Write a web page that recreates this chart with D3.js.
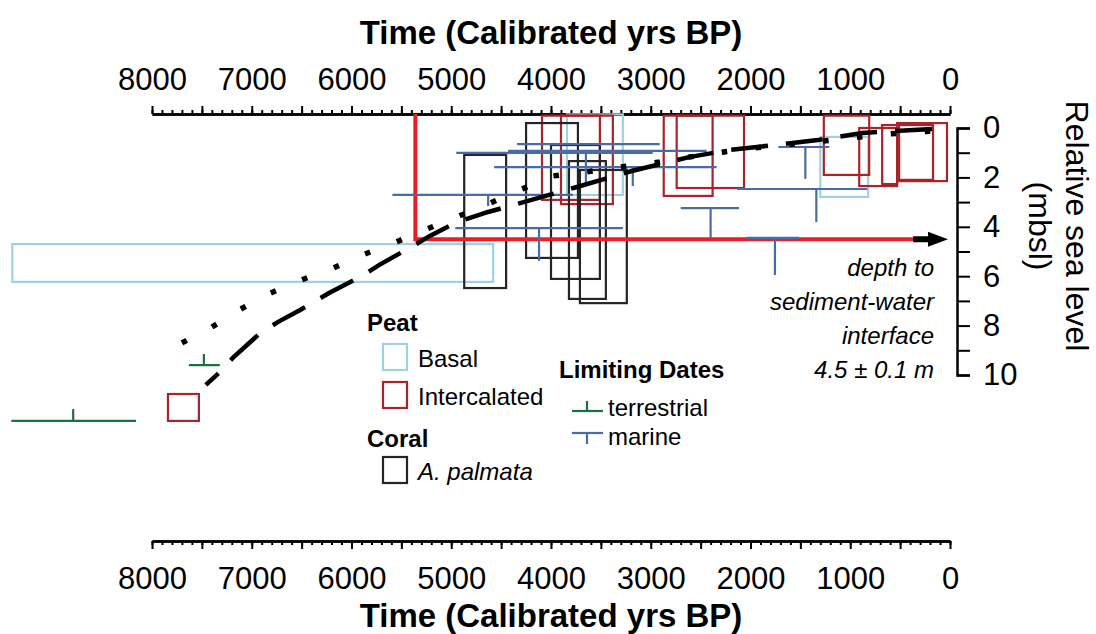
<!DOCTYPE html>
<html>
<head>
<meta charset="utf-8">
<script src="https://cdn.jsdelivr.net/npm/d3@7"></script>
<style>
  body { margin: 0; background: #fff; }
  svg { display: block; font-family: "Liberation Sans", Arial, sans-serif; }
</style>
</head>
<body>
<div id="container"></div>
<script>
/**
 * DATA (ages in calibrated yrs BP, depths in m below sea level)
 * */
// [older, younger, top, bottom]
const basalPeat = [
  [9400, 4580, 4.70, 6.23],
  [3840, 3280, -0.55, 2.71],
  [1300, 820, 0.36, 2.79]
];
const intercalatedPeat = [
  [4090, 3510, -0.5, 2.91],
  [3900, 3380, -0.5, 3.08],
  [2870, 2380, -0.5, 2.75],
  [2740, 2065, -0.5, 2.43],
  [1265, 810, -0.5, 1.90],
  [910, 530, 0.0, 2.35],
  [680, 530, -0.12, 2.27],
  [530, 30, -0.2, 2.15],
  [510, 170, -0.12, 2.10],
  [7840, 7530, 10.77, 11.86]
];
const coralPalmata = [
  [4870, 4450, 1.09, 6.48],
  [4250, 3730, -0.2, 5.26],
  [4000, 3510, 0.69, 6.11],
  [3820, 3450, 1.34, 6.92],
  [3710, 3240, 1.70, 7.09]
];
// [older, younger, median, depth, tick end depth]
const marineDates = [
  [4340, 2910, null, 0.65, null],
  [4950, 2980, null, 1.01, null],
  [4430, 2440, 3650, 0.93, 2.23],
  [4570, 2340, 3180, 1.58, 2.35],
  [5590, 3780, 4630, 2.71, 3.16],
  [4960, 3280, 4120, 4.05, 5.38],
  [1720, 1210, 1450, 0.77, 2.06],
  [2135, 830, 1340, 2.47, 3.81],
  [2700, 2115, 2400, 3.24, 4.45],
  [2035, 1515, 1755, 4.45, 5.95]
];
const terrestrialDates = [
  [7630, 7320, 7480, 9.60, 9.15],
  [9410, 8160, 8790, 11.86, 11.38]
];
// sea level curves [age, depth]
const dottedCurve = [[7700, 8.70], [7400, 8.06], [7110, 7.33], [6810, 6.68], [6500, 6.15],
  [6185, 5.67], [5865, 5.10], [5555, 4.62], [5245, 4.09], [4920, 3.56], [4610, 3.04],
  [4290, 2.47], [3980, 1.94], [3650, 1.78], [3310, 1.58], [2910, 1.38], [2425, 1.05],
  [1805, 0.73], [1275, 0.53], [620, 0.24], [270, 0.16], [0, 0]];
const dashedCurve = [[7460, 10.40], [7330, 9.92], [7190, 9.31], [6915, 8.30], [6735, 7.85],
  [6515, 7.37], [6225, 6.68], [5895, 5.99], [5725, 5.55], [5385, 4.78], [5215, 4.37],
  [4940, 3.81], [4630, 3.40], [4310, 3.04], [3740, 2.39], [3190, 1.74], [2605, 1.17],
  [2205, 0.89], [1325, 0.49], [880, 0.20], [0, 0]];

const sedimentDepth = 4.5;
const sedimentStart = 5360, sedimentEnd = 370, arrowEnd = 20;
const annotationLines = ["depth to", "sediment-water", "interface", "4.5 \u00b1 0.1 m"];

const timeTicks = [8000, 7000, 6000, 5000, 4000, 3000, 2000, 1000, 0];
const depthTicks = [0, 2, 4, 6, 8, 10];
const timeTitle = "Time (Calibrated yrs BP)";

/**
 * CONSTANTS
 * */
const width = 1096, height = 634;
const colors = {
  basal: "#9ed2df",
  intercalated: "#a8232b",
  coral: "#262425",
  marine: "#4a6ca6",
  terrestrial: "#1b7040",
  sediment: "#ee1c25"
};

const x = d3.scaleLinear().domain([8000, 0]).range([152, 950]);
const y = d3.scaleLinear().domain([0, 10]).range([128, 375]);
const topY = 114, bottomY = 541, rightX = 957;

const svg = d3.select("#container")
  .append("svg")
  .attr("width", width)
  .attr("height", height);

/**
 * AXES
 * */
function styleAxis(g, labelSize) {
  g.selectAll("path.domain").attr("stroke", "#000").attr("stroke-width", 2.5);
  g.selectAll(".tick line").attr("stroke", "#000").attr("stroke-width", 2);
  g.selectAll("text")
    .attr("fill", "#000")
    .style("font-size", labelSize + "px")
    .style("font-family", "'Liberation Sans', Arial, sans-serif");
}

// top
svg.append("g")
  .attr("transform", `translate(0,${topY})`)
  .call(d3.axisTop(x).tickValues(d3.range(0, 8001, 100)).tickSize(4).tickSizeOuter(0).tickFormat(""))
  .call(g => styleAxis(g, 31));
svg.append("g")
  .attr("transform", `translate(0,${topY})`)
  .call(d3.axisTop(x).tickValues(d3.range(0, 8001, 500)).tickSize(8).tickSizeOuter(0).tickPadding(16)
    .tickFormat(d => timeTicks.includes(d) ? d : ""))
  .call(g => styleAxis(g, 31));

// bottom
svg.append("g")
  .attr("transform", `translate(0,${bottomY})`)
  .call(d3.axisBottom(x).tickValues(d3.range(0, 8001, 100)).tickSize(4).tickSizeOuter(0).tickFormat(""))
  .call(g => styleAxis(g, 31));
svg.append("g")
  .attr("transform", `translate(0,${bottomY})`)
  .call(d3.axisBottom(x).tickValues(d3.range(0, 8001, 500)).tickSize(8).tickSizeOuter(0).tickPadding(18)
    .tickFormat(d => timeTicks.includes(d) ? d : ""))
  .call(g => styleAxis(g, 31));

// right
svg.append("g")
  .attr("transform", `translate(${rightX},0)`)
  .call(d3.axisRight(y).tickValues(d3.range(0, 11, 1)).tickSize(13).tickSizeOuter(13).tickPadding(13)
    .tickFormat(d => depthTicks.includes(d) ? d : ""))
  .call(g => styleAxis(g, 31));

// titles
svg.append("text")
  .attr("x", (x(8000) + x(0)) / 2).attr("y", 44)
  .attr("text-anchor", "middle")
  .style("font-size", "33px").style("font-weight", "bold")
  .text(timeTitle);
svg.append("text")
  .attr("x", (x(8000) + x(0)) / 2).attr("y", 627)
  .attr("text-anchor", "middle")
  .style("font-size", "33px").style("font-weight", "bold")
  .text(timeTitle);
const midY = 226;
svg.append("text")
  .attr("transform", `translate(1066,${midY}) rotate(90)`)
  .attr("text-anchor", "middle")
  .style("font-size", "32px")
  .text("Relative sea level");
svg.append("text")
  .attr("transform", `translate(1029,${midY}) rotate(90)`)
  .attr("text-anchor", "middle")
  .style("font-size", "32px")
  .text("(mbsl)");

/**
 * MARKS
 * */
function boxes(data, color) {
  svg.append("g").selectAll("rect")
    .data(data)
    .join("rect")
    .attr("x", d => x(d[0]))
    .attr("y", d => y(d[2]))
    .attr("width", d => x(d[1]) - x(d[0]))
    .attr("height", d => y(d[3]) - y(d[2]))
    .attr("fill", "none")
    .attr("stroke", color)
    .attr("stroke-width", 2.2);
}

boxes(basalPeat, colors.basal);
boxes(intercalatedPeat, colors.intercalated);
boxes(coralPalmata, colors.coral);

// sediment-water interface
svg.append("path")
  .attr("d", d3.line()([[x(sedimentStart), topY], [x(sedimentStart), y(sedimentDepth)], [x(sedimentEnd), y(sedimentDepth)]]))
  .attr("fill", "none")
  .attr("stroke", colors.sediment)
  .attr("stroke-width", 4);

function dateBars(data, color) {
  const g = svg.append("g").attr("stroke", color).attr("stroke-width", 2.2);
  g.selectAll("line.range")
    .data(data)
    .join("line")
    .attr("class", "range")
    .attr("x1", d => x(d[0])).attr("x2", d => x(d[1]))
    .attr("y1", d => y(d[3])).attr("y2", d => y(d[3]));
  g.selectAll("line.tick")
    .data(data.filter(d => d[2] != null))
    .join("line")
    .attr("class", "tick")
    .attr("x1", d => x(d[2])).attr("x2", d => x(d[2]))
    .attr("y1", d => y(d[3])).attr("y2", d => y(d[4]));
}
dateBars(marineDates, colors.marine);
dateBars(terrestrialDates, colors.terrestrial);

// curves
const line = d3.line().x(d => x(d[0])).y(d => y(d[1]));
svg.append("path")
  .attr("d", line(dottedCurve))
  .attr("fill", "none")
  .attr("stroke", "#000")
  .attr("stroke-width", 5.5)
  .attr("stroke-dasharray", "5.5,28.5");
svg.append("path")
  .attr("d", line(dashedCurve))
  .attr("fill", "none")
  .attr("stroke", "#000")
  .attr("stroke-width", 4.5)
  .attr("stroke-dasharray", "37,18")
  .attr("stroke-dashoffset", 20);

// arrow
const ay = y(sedimentDepth), ax0 = x(sedimentEnd), ax1 = x(arrowEnd);
svg.append("path")
  .attr("d", `M${ax0},${ay - 3}H${ax1 - 20}V${ay - 7.5}L${ax1},${ay}L${ax1 - 20},${ay + 7.5}V${ay + 3}H${ax0}Z`)
  .attr("fill", "#000");

// annotation
svg.append("text")
  .attr("text-anchor", "end")
  .style("font-size", "24px")
  .style("font-style", "italic")
  .selectAll("tspan")
  .data(annotationLines)
  .join("tspan")
  .attr("x", 934)
  .attr("y", (d, i) => 276 + i * 34)
  .text(d => d);

/**
 * LEGEND
 * */
const legend = svg.append("g").style("font-size", "24px");
const heads = [["Peat", 367, 331], ["Coral", 367, 447], ["Limiting Dates", 559, 378]];
legend.selectAll("text.head")
  .data(heads)
  .join("text")
  .attr("class", "head")
  .attr("x", d => d[1]).attr("y", d => d[2])
  .style("font-weight", "bold")
  .text(d => d[0]);

const boxItems = [
  ["Basal", colors.basal, 344, "normal"],
  ["Intercalated", colors.intercalated, 382, "normal"],
  ["A. palmata", colors.coral, 457, "italic"]
];
legend.selectAll("rect")
  .data(boxItems)
  .join("rect")
  .attr("x", 383).attr("y", d => d[2])
  .attr("width", 24).attr("height", 26)
  .attr("fill", "none")
  .attr("stroke", d => d[1])
  .attr("stroke-width", 2.2);
legend.selectAll("text.item")
  .data(boxItems)
  .join("text")
  .attr("class", "item")
  .attr("x", 418).attr("y", d => d[2] + 23)
  .style("font-style", d => d[3])
  .text(d => d[0]);

const dateItems = [["terrestrial", colors.terrestrial, 411, -10], ["marine", colors.marine, 433, 11]];
dateItems.forEach(([label, color, ly, dy]) => {
  legend.append("line").attr("x1", 572).attr("x2", 603).attr("y1", ly).attr("y2", ly)
    .attr("stroke", color).attr("stroke-width", 2.2);
  legend.append("line").attr("x1", 587).attr("x2", 587).attr("y1", ly).attr("y2", ly + dy)
    .attr("stroke", color).attr("stroke-width", 2.2);
  legend.append("text").attr("x", 608).attr("y", ly + (dy < 0 ? 5 : 12)).text(label);
});
</script>
</body>
</html>
